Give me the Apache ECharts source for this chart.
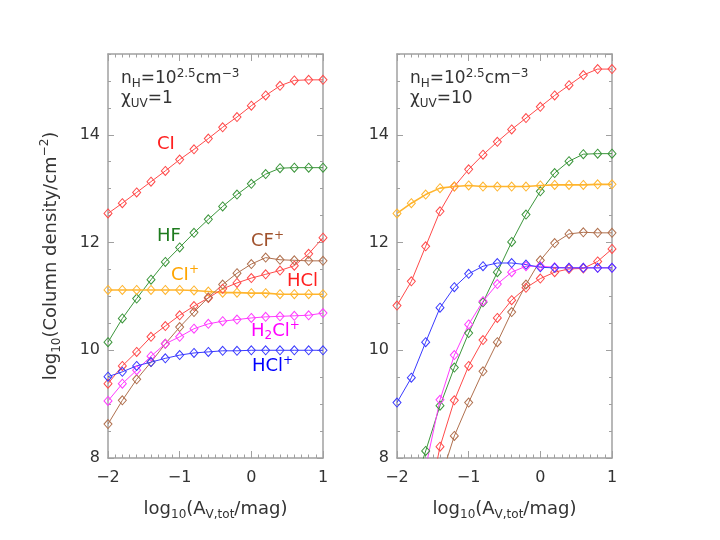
<!DOCTYPE html>
<html><head><meta charset="utf-8">
<script src="https://cdn.jsdelivr.net/npm/echarts@6/dist/echarts.min.js"></script>
<style>html,body{margin:0;padding:0;background:#fff}#c{width:720px;height:540px}</style>
</head><body><div id="c"></div>
<script>
// log10(A_V,tot/mag)
const xVals = [-2.0,-1.8,-1.6,-1.4,-1.2,-1.0,-0.8,-0.6,-0.4,-0.2,0.0,0.2,0.4,0.6,0.8,1.0];
const xTicks = [-2,-1,0,1];
const yTicks = [8,10,12,14];

// Left panel: chi_UV = 1
const CI_1    = [12.54,12.73,12.93,13.13,13.33,13.54,13.73,13.93,14.14,14.33,14.54,14.73,14.91,15.01,15.02,15.02];
const HF_1    = [10.15,10.59,10.96,11.31,11.64,11.91,12.18,12.43,12.67,12.89,13.09,13.27,13.38,13.39,13.39,13.39];
const CIp_1   = [11.12,11.12,11.12,11.12,11.12,11.12,11.11,11.09,11.07,11.07,11.06,11.06,11.04,11.04,11.04,11.04];
const HCl_1   = [9.38,9.71,9.97,10.25,10.45,10.65,10.82,10.97,11.14,11.25,11.34,11.41,11.48,11.57,11.79,12.09];
const CFp_1   = [8.63,9.07,9.46,9.78,10.12,10.43,10.71,10.98,11.22,11.43,11.60,11.72,11.68,11.67,11.66,11.66];
const H2Clp_1 = [9.06,9.38,9.63,9.89,10.12,10.25,10.40,10.49,10.54,10.57,10.60,10.62,10.63,10.64,10.65,10.69];
const HClp_1  = [9.51,9.60,9.71,9.78,9.85,9.91,9.95,9.97,9.99,9.99,10.00,10.00,10.00,10.00,10.00,10.00];

// Right panel: chi_UV = 10
const CI_10    = [10.83,11.28,11.93,12.58,13.04,13.36,13.63,13.87,14.10,14.31,14.52,14.73,14.92,15.11,15.22,15.22];
const HF_10    = [null,7.30,8.13,8.97,9.68,10.32,10.89,11.45,12.01,12.52,12.95,13.29,13.51,13.64,13.65,13.65];
const CIp_10   = [12.54,12.73,12.89,13.01,13.04,13.06,13.04,13.04,13.04,13.04,13.06,13.07,13.07,13.07,13.08,13.08];
const HCl_10   = [null,null,6.90,8.21,9.07,9.71,10.19,10.60,10.93,11.16,11.33,11.45,11.51,11.52,11.65,11.88];
const CFp_10   = [null,null,null,7.58,8.41,9.03,9.61,10.15,10.71,11.22,11.67,11.99,12.16,12.19,12.18,12.18];
const H2Clp_10 = [null,null,7.82,9.08,9.91,10.48,10.91,11.23,11.45,11.56,11.56,11.54,11.53,11.53,11.53,11.53];
const HClp_10  = [9.03,9.49,10.15,10.79,11.17,11.42,11.56,11.62,11.62,11.59,11.54,11.53,11.53,11.53,11.53,11.53];

const C = {red:'#ff2020', green:'#2e8b2e', orange:'#ffa500', brown:'#a0522d', magenta:'#ff00ff', blue:'#0000ff'};
const LC = {red:'#ff4a4a', green:'#3c963c', orange:'#ffb52e', brown:'#b0704e', magenta:'#ff3cff', blue:'#3a3aff'};
const FONT = 'DejaVu Sans';
const AX = '#a0a0a0';
const TXT = '#333';

function mk(name, vals, key, xi, yi, w) {
  return {
    type:'line', name, xAxisIndex:xi, yAxisIndex:yi,
    data: xVals.map((x,i)=>[x, vals[i]]),
    symbol:'diamond', symbolSize:[8,9], showSymbol:true, clip:true, silent:true,
    lineStyle:{color:LC[key], width:w||1},
    itemStyle:{color:'rgba(0,0,0,0)', borderColor:LC[key], borderWidth:1},
    emphasis:{disabled:true}, animation:false
  };
}

const grids = [
  {left:108, top:54, width:215, height:404},
  {left:397, top:54, width:215, height:404}
];

const minus = v => String(v).replace('-', '\u2212');
const nameRich = {
  a:{fontFamily:FONT, fontSize:18, color:TXT, lineHeight:24},
  s:{fontFamily:FONT, fontSize:12, color:TXT, verticalAlign:'bottom', lineHeight:15},
  p:{fontFamily:FONT, fontSize:12, color:TXT, verticalAlign:'top', lineHeight:15}
};
function xAx(gi, pos, labels) {
  return {
    type:'value', gridIndex:gi, position:pos, min:-2, max:1, interval:1,
    axisLine:{show:true, onZero:false, lineStyle:{color:AX, width:1.5}},
    axisTick:{show:true, inside:true, length:7, lineStyle:{color:AX, width:1}},
    minorTick:{show:true, splitNumber:10, length:3.5, lineStyle:{color:AX, width:1}},
    splitLine:{show:false},
    axisLabel:{show:labels, margin:12, fontFamily:FONT, fontSize:16, color:TXT, formatter:minus},
    name: labels ? '{a|log}{s|10}{a|(A}{s|V,tot}{a|/mag)}' : '',
    nameLocation:'middle', nameGap:39,
    nameTextStyle:{rich:nameRich}
  };
}
function yAx(gi, pos, labels, minor, name) {
  return {
    type:'value', gridIndex:gi, position:pos, min:8, max:15.5, interval: minor ? 0.5 : 2,
    axisLine:{show:!minor, onZero:false, lineStyle:{color:AX, width:1.5}},
    axisTick:{show:true, inside:true, length: minor ? 3 : 6, lineStyle:{color:AX, width:1}},
    splitLine:{show:false},
    axisLabel:{show:labels, showMaxLabel:false, margin:8, fontFamily:FONT, fontSize:16, color:TXT},
    name: name ? '{a|log}{s|10}{a|(Column density/cm}{p|\u22122}{a|)}' : '',
    nameLocation:'middle', nameGap:45, nameRotate:90,
    nameTextStyle:{rich:nameRich}
  };
}

const txtRich = (color, size) => ({
  a:{fontFamily:FONT, fontSize:size, fill:color, lineHeight:22},
  sub:{fontFamily:FONT, fontSize:Math.round(size*0.68), fill:color, verticalAlign:'bottom', lineHeight:14},
  sup:{fontFamily:FONT, fontSize:Math.round(size*0.68), fill:color, verticalAlign:'top', lineHeight:14}
});
function label(text, color, left, top, size) {
  return {type:'text', left, top, silent:true,
    style:{text, fill:color, rich:txtRich(color, size||18)}};
}

const chart = echarts.init(document.getElementById('c'), null, {renderer:'canvas'});
chart.setOption({
  backgroundColor:'#fff',
  animation:false,
  grid: grids,
  xAxis:[xAx(0,'bottom',true), xAx(0,'top',false), xAx(1,'bottom',true), xAx(1,'top',false)],
  yAxis:[
    yAx(0,'left',true,false,true), yAx(0,'right',false,false,false),
    yAx(0,'left',false,true,false), yAx(0,'right',false,true,false),
    yAx(1,'left',true,false,false), yAx(1,'right',false,false,false),
    yAx(1,'left',false,true,false), yAx(1,'right',false,true,false)
  ],
  series:[
    mk('CI', CI_1, 'red', 0, 0),
    mk('HF', HF_1, 'green', 0, 0),
    mk('CI+', CIp_1, 'orange', 0, 0, 1.6),
    mk('HCl', HCl_1, 'red', 0, 0),
    mk('CF+', CFp_1, 'brown', 0, 0),
    mk('H2Cl+', H2Clp_1, 'magenta', 0, 0),
    mk('HCl+', HClp_1, 'blue', 0, 0),
    mk('CI', CI_10, 'red', 2, 4),
    mk('HF', HF_10, 'green', 2, 4),
    mk('CI+', CIp_10, 'orange', 2, 4, 1.6),
    mk('HCl', HCl_10, 'red', 2, 4),
    mk('CF+', CFp_10, 'brown', 2, 4),
    mk('H2Cl+', H2Clp_10, 'magenta', 2, 4),
    mk('HCl+', HClp_10, 'blue', 2, 4)
  ],
  graphic:[
    label('{a|n}{sub|H}{a|=10}{sup|2.5}{a|cm}{sup|\u22123}', TXT, 121, 68, 17),
    label('{a|\u03c7}{sub|UV}{a|=1}', TXT, 121, 90, 17),
    label('{a|n}{sub|H}{a|=10}{sup|2.5}{a|cm}{sup|\u22123}', TXT, 410, 68, 17),
    label('{a|\u03c7}{sub|UV}{a|=10}', TXT, 410, 90, 17),
    label('{a|CI}', C.red, 157, 135),
    label('{a|HF}', '#1e7b1e', 157, 227),
    label('{a|CF}{sup|+}', C.brown, 251, 230),
    label('{a|CI}{sup|+}', C.orange, 171, 264),
    label('{a|HCl}', C.red, 287, 272),
    label('{a|H}{sub|2}{a|Cl}{sup|+}', C.magenta, 251, 320),
    label('{a|HCl}{sup|+}', C.blue, 252, 355)
  ]
});
</script>
</body></html>
